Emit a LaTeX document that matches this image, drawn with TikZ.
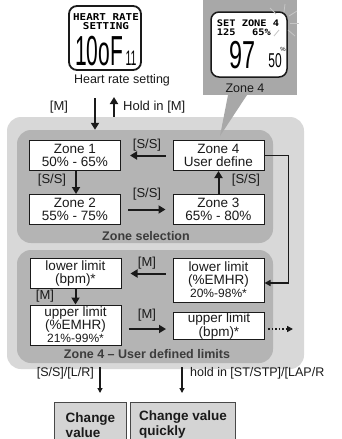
\documentclass[tikz,border=0pt]{standalone}
\usepackage{fontspec}
\setmainfont{Liberation Sans}
\newfontfamily\lcdfont{DejaVu Sans Mono}
\usepackage{graphicx}
\usetikzlibrary{positioning,arrows.meta}

\definecolor{panelA}{HTML}{D8D8D8}
\definecolor{panelB}{HTML}{B4B4B4}
\definecolor{callout}{HTML}{A8A8A8}
\definecolor{boxgray}{HTML}{D4D4D4}
\definecolor{ink}{HTML}{1A1A1A}

\tikzset{
  zbox/.style={draw=ink, fill=white, line width=1pt, align=center, inner sep=0pt,
    minimum width=91pt, minimum height=30pt, text=ink,
    font=\fontsize{13.5}{13}\selectfont},
  lbl/.style={text=ink, inner sep=1pt, font=\fontsize{13}{13}\selectfont},
  flow/.style={line width=2pt, draw=ink, -{Triangle[length=7pt,width=8pt]}},
  slim/.style={line width=1.2pt, draw=ink, -{Triangle[length=5pt,width=5pt]}},
  panel/.style={rounded corners=14pt, inner sep=0pt},
  lcd/.style={draw=ink, fill=white, rounded corners=8pt, inner sep=0pt},
  optbox/.style={draw=ink!80, fill=boxgray, line width=1pt, align=left, anchor=north west,
    inner sep=4pt, text=ink, font=\bfseries\fontsize{13.5}{15}\selectfont}
}

\begin{document}
\begin{tikzpicture}[x=1pt, y=-1pt]
  \path[use as bounding box, clip] (0,0) rectangle (342,439);
  \fill[white] (0,0) rectangle (342,439);

  % Panels
  \node[panel, fill=panelA, minimum width=297pt, minimum height=252pt] (outer) at (155.5,243) {};
  \node[panel, fill=panelB, minimum width=256pt, minimum height=113pt] (zsel) at (145,186.5) {};
  \node[panel, fill=panelB, minimum width=256pt, minimum height=113pt] (zlim) at (145,306.5) {};
  \node[font=\bfseries\fontsize{12.5}{12.5}\selectfont, text=ink!85] (zseltxt) at (146,236) {Zone selection};
  \node[font=\bfseries\fontsize{12.5}{12.5}\selectfont, text=ink!85] (zlimtxt) at (147,354) {Zone 4 -- User defined limits};

  % Heart rate display
  \node[lcd, line width=1.8pt, minimum width=72pt, minimum height=64pt] (lcdhr) at (105,38) {};
  \node[font=\lcdfont\bfseries\fontsize{9.5}{9.5}\selectfont, align=center, inner sep=0pt] (hrtxt) at (106,21.5) {\scalebox{1.15}[1]{HEART RATE}\\\scalebox{1.15}[1]{SETTING}};
  \node[inner sep=0pt] (hrbig) at (99,51) {\scalebox{0.5}[1]{\fontsize{42}{42}\selectfont 10oF}};
  \node[inner sep=0pt] (hrsmall) at (131,58) {\scalebox{0.5}[1]{\fontsize{21}{21}\selectfont 11}};
  \node[font=\fontsize{12.5}{12.5}\selectfont, text=ink] (hrlbl) at (122,80) {Heart rate setting};

  % Zone 4 callout
  \fill[callout] (203,0) rectangle (297,95);
  \fill[callout] (228,95) -- (247,95) -- (220,136) -- cycle;
  \node[lcd, line width=1.5pt, minimum width=76pt, minimum height=65pt] (lcdz) at (249,44.5) {};
  \node[font=\lcdfont\bfseries\fontsize{9}{9}\selectfont, align=left, inner sep=0pt] (ztxt) at (248,28) {\scalebox{1.15}[1]{SET ZONE 4}\\\scalebox{1.15}[1]{125\hspace{1.6em}65\%}};
  \node[inner sep=0pt] (zbig) at (243,55) {\scalebox{0.6}[1]{\fontsize{39}{39}\selectfont 97}};
  \node[inner sep=0pt] (zsmall) at (275,61) {\scalebox{0.6}[1]{\fontsize{20}{20}\selectfont 50}};
  \node[inner sep=0pt, font=\fontsize{6}{6}\selectfont] (zpct) at (283,49) {\%};
  \foreach \a/\b/\c/\d in {276/14/270/8, 284/12/285/4, 289/16/297/11, 290/23/299/23, 288/30/295/36, 279/30/274/36}
    \draw[gray!45, line width=0.8pt] (\a,\b) -- (\c,\d);
  \node[font=\fontsize{12.5}{12.5}\selectfont, text=ink] (zlbl) at (245,88) {Zone 4};

  % Zone boxes
  \node[zbox] (z1) at (75,155.5) {Zone 1\\50\% - 65\%};
  \node[zbox] (z4) at (218.5,155.5) {Zone 4\\User define};
  \node[zbox] (z2) at (75,209.5) {Zone 2\\55\% - 75\%};
  \node[zbox] (z3) at (218.5,209.5) {Zone 3\\65\% - 80\%};

  % Limit boxes
  \node[zbox] (lowbpm) at (75.5,273.5) {lower limit\\(bpm)*};
  \node[zbox, minimum height=44pt] (lowpct) at (218.5,280) {lower limit\\(\%EMHR)\\{\fontsize{12}{11}\selectfont 20\%-98\%*}};
  \node[zbox, minimum height=40pt] (uppct) at (75.5,325) {upper limit\\(\%EMHR)\\{\fontsize{12}{11}\selectfont 21\%-99\%*}};
  \node[zbox, minimum height=23pt, font=\fontsize{13.5}{11.5}\selectfont] (upbpm) at (219,326) {upper limit\\(bpm)*};

  % Entry arrows
  \coordinate (mtop) at (95,98);
  \coordinate (holdtop) at (114,97);
  \draw[flow, line width=2.5pt] (mtop) -- (mtop |- zsel.north);
  \draw[flow, line width=2.5pt] (holdtop |- outer.north) -- (holdtop);
  \node[lbl] (mlbl) at (59,107) {[M]};
  \node[lbl, anchor=west] (holdlbl) at (122,107) {Hold in [M]};

  % Zone selection cycle
  \draw[flow, shorten <=7pt, shorten >=9pt] (z4.west) -- (z1.east);
  \draw[flow] (z1.south) ++(1,0) -- (z2.north -| 76,0);
  \draw[flow, shorten <=7pt, shorten >=7pt] (z2.east) -- (z3.west);
  \draw[flow] (z3.north) -- (z4.south);
  \node[lbl] (s1) at (147,145) {[S/S]};
  \node[lbl] (s2) at (52,180) {[S/S]};
  \node[lbl] (s3) at (147,194) {[S/S]};
  \node[lbl] (s4) at (246,180) {[S/S]};

  % Zone 4 to limits
  \draw[line width=1.5pt, draw=ink, -{Triangle[length=6pt,width=6pt]}]
    (z4.east) -- ++(24,0) |- ([yshift=-3pt]lowpct.east);

  % Limit cycle
  \draw[flow, shorten <=7pt, shorten >=9pt] (lowpct.west |- lowbpm.east) -- (lowbpm.east);
  \draw[flow] (lowbpm.south) -- (uppct.north);
  \draw[flow, shorten <=7pt, shorten >=7pt] ([yshift=-4pt]uppct.east) -- ([yshift=-3pt]upbpm.west);
  \coordinate (dotend) at (293,329);
  \draw[line width=1.5pt, draw=ink, dotted, -{Triangle[length=6pt,width=6pt]}] ([yshift=-3pt]upbpm.east) ++(3,0) -- (dotend);
  \node[lbl] (m1) at (147,263) {[M]};
  \node[lbl] (m2) at (45,296) {[M]};
  \node[lbl] (m3) at (147,315) {[M]};

  % Value change
  \node[optbox, minimum width=72pt, minimum height=45pt] (chg) at (54,402) {Change\\value};
  \node[optbox, minimum width=105pt, minimum height=45pt] (chgq) at (130,402) {Change value\\quickly};
  \coordinate (ss) at (100,367);
  \coordinate (hold) at (182,367);
  \draw[slim, shorten >=9pt] (ss) -- (ss |- chg.north);
  \draw[slim, shorten >=9pt] (hold) -- (hold |- chgq.north);
  \node[lbl, anchor=east, font=\fontsize{12.5}{12.5}\selectfont] (sslbl) at (95,373) {[S/S]/[L/R]};
  \node[lbl, anchor=west, font=\fontsize{12.5}{12.5}\selectfont] (holdlbl2) at (189,373) {hold in [ST/STP]/[LAP/R};
\end{tikzpicture}
\end{document}
